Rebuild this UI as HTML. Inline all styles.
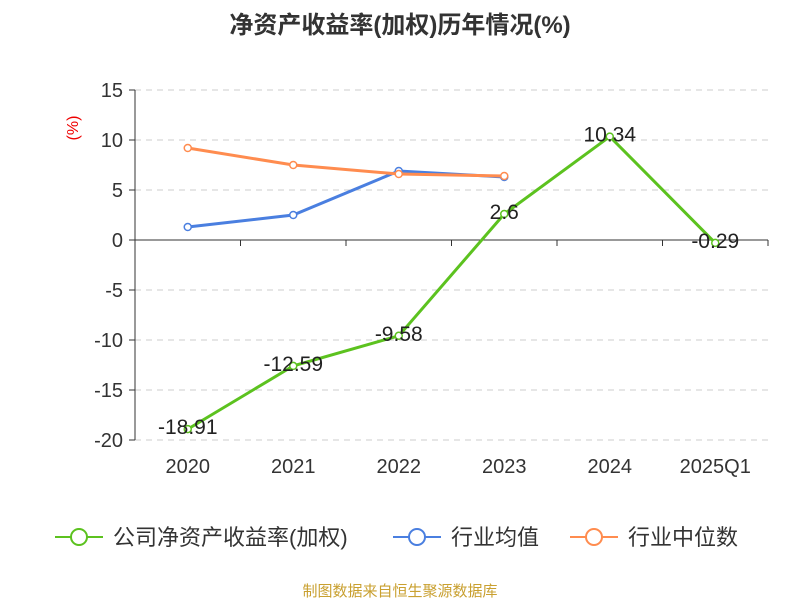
<!DOCTYPE html>
<html><head><meta charset="utf-8"><style>
body{margin:0;background:#fff;font-family:"Liberation Sans","Noto Sans CJK SC",sans-serif;}
</style></head><body>
<svg width="800" height="600" id="chart" font-family="Liberation Sans, Noto Sans CJK SC, sans-serif">
<text x="400" y="33" text-anchor="middle" font-size="24" font-weight="bold" fill="#333">净资产收益率(加权)历年情况(%)</text>
<text x="78" y="128" font-size="16" fill="#e00" transform="rotate(-90 78 128)" text-anchor="middle">(%)</text>
<g id="grid"></g><g id="axes"></g><g id="series"></g>
<g id="legend"></g>
<text x="400" y="596" text-anchor="middle" font-size="15" fill="#c9a030">制图数据来自恒生聚源数据库</text>
</svg>
<script>
const categories=["2020","2021","2022","2023","2024","2025Q1"];
const companyROE=[-18.91,-12.59,-9.58,2.6,10.34,-0.29];
const industryAvg=[1.3,2.5,6.9,6.3,null,null];
const industryMedian=[9.2,7.5,6.6,6.4,null,null];
const yTicks=[15,10,5,0,-5,-10,-15,-20];
const legendLabels=["公司净资产收益率(加权)","行业均值","行业中位数"];
const colors=["#5cc21f","#4a7fe0","#ff8c4f"];
const NS="http://www.w3.org/2000/svg";
const L=135,R=768,T=90,B=440,yMax=15,yMin=-20;
const y=v=>T+(yMax-v)/(yMax-yMin)*(B-T);
const bw=(R-L)/categories.length;
const x=i=>L+bw*(i+0.5);
function mk(tag,attrs,parent,text){const e=document.createElementNS(NS,tag);for(const k in attrs)e.setAttribute(k,attrs[k]);if(text!=null)e.textContent=text;document.getElementById(parent)?document.getElementById(parent).appendChild(e):parent.appendChild(e);return e;}
yTicks.forEach(t=>{
 if(t!==0){const g=mk('line',{x1:L,x2:R,y1:y(t),y2:y(t),stroke:'#ccc','stroke-dasharray':'6,5'},'grid');
 }
 const tk=mk('line',{x1:L-6,x2:L,y1:y(t),y2:y(t),stroke:'#333'},'axes');
 
 const lb=mk('text',{x:L-12,y:y(t)+7,'text-anchor':'end','font-size':20,fill:'#333'},'axes',String(t));
 
});
const ya=mk('line',{x1:L,x2:L,y1:T,y2:B,stroke:'#333'},'axes');

const xa=mk('line',{x1:L,x2:R,y1:y(0),y2:y(0),stroke:'#333'},'axes');

for(let i=0;i<=categories.length;i++){const t=mk('line',{x1:L+bw*i,x2:L+bw*i,y1:y(0),y2:y(0)+6,stroke:'#333'},'axes');
 }
categories.forEach((c,i)=>{const t=mk('text',{x:x(i),y:473,'text-anchor':'middle','font-size':20,fill:'#333'},'axes',c);
 });
function series(vals,color,name,labels){
 const pts=vals.map((v,i)=>v==null?null:[x(i),y(v)]).filter(p=>p);
 const pl=mk('polyline',{points:pts.map(p=>p.join(',')).join(' '),fill:'none',stroke:color,'stroke-width':3},'series');
 
 vals.forEach((v,i)=>{if(v==null)return;
  const c=mk('circle',{cx:x(i),cy:y(v),r:3.5,fill:'#fff',stroke:color,'stroke-width':1.5},'series');
  
  if(labels){const t=mk('text',{x:x(i),y:y(v)+5,'text-anchor':'middle','font-size':21,fill:'#222'},'series',String(v));
   }
 });
}
series(industryAvg,colors[1],'industry-avg',false);
series(industryMedian,colors[2],'industry-median',false);
series(companyROE,colors[0],'company-roe',true);
const lx=[55,393,570];
legendLabels.forEach((l,i)=>{
 const g=mk('g',{},'legend');
 mk('line',{x1:lx[i],x2:lx[i]+48,y1:537,y2:537,stroke:colors[i],'stroke-width':2},g);
 mk('circle',{cx:lx[i]+24,cy:537,r:8,fill:'#fff',stroke:colors[i],'stroke-width':2},g);
 mk('text',{x:lx[i]+58,y:545,'font-size':22,fill:'#333'},g,l);
});
</script>
</body></html>
